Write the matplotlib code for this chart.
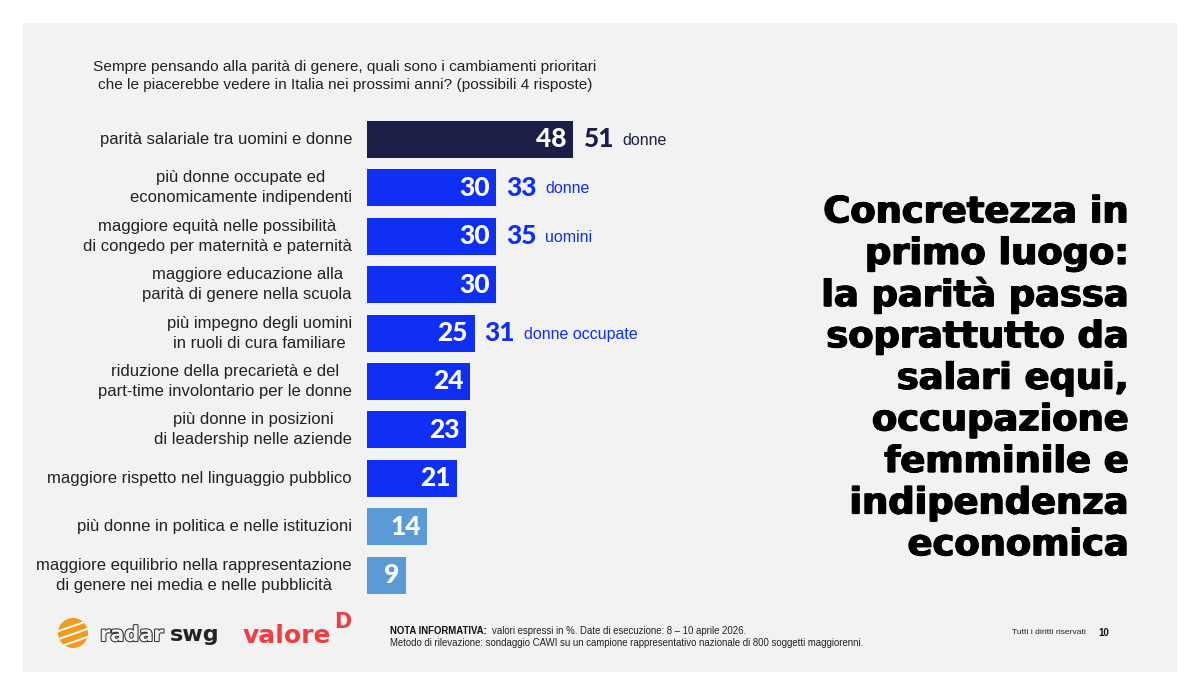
import matplotlib
matplotlib.use("Agg")
import matplotlib.pyplot as plt
from matplotlib.patches import Rectangle, Circle
from matplotlib.transforms import IdentityTransform
import matplotlib.patheffects as pe

# ---------------- data ----------------
categories = [
    "parità salariale tra uomini e donne",
    "più donne occupate ed\neconomicamente indipendenti",
    "maggiore equità nelle possibilità\ndi congedo per maternità e paternità",
    "maggiore educazione alla\nparità di genere nella scuola",
    "più impegno degli uomini\nin ruoli di cura familiare",
    "riduzione della precarietà e del\npart-time involontario per le donne",
    "più donne in posizioni\ndi leadership nelle aziende",
    "maggiore rispetto nel linguaggio pubblico",
    "più donne in politica e nelle istituzioni",
    "maggiore equilibrio nella rappresentazione\ndi genere nei media e nelle pubblicità",
]
values = [48, 30, 30, 30, 25, 24, 23, 21, 14, 9]
sub_values = [51, 33, 35, None, 31, None, None, None, None, None]
sub_labels = ["donne", "donne", "uomini", None, "donne occupate", None, None, None, None, None]
question = ("Sempre pensando alla parità di genere, quali sono i cambiamenti prioritari\n"
            "che le piacerebbe vedere in Italia nei prossimi anni? (possibili 4 risposte)")
headline = ["Concretezza in", "primo luogo:", "la parità passa", "soprattutto da",
            "salari equi,", "occupazione", "femminile e", "indipendenza", "economica"]

NAVY = "#1b1f47"
BLUE = "#0f2ff5"
LIGHT = "#5b9bd5"
bar_colors = [NAVY] + [BLUE] * 7 + [LIGHT] * 2
sub_colors = [NAVY] + [BLUE] * 9
PANEL = "#f2f2f2"

W, H = 1200, 695
fig = plt.figure(figsize=(12, 6.95), dpi=100)
fig.patch.set_facecolor("white")

def fx(px):
    return px / W

def fy(py):
    return 1 - py / H

def faux_bold(color, steps=(0.4, 0.8, 1.2)):
    effects = [pe.SimplePatchShadow(offset=(s, 0), shadow_rgbFace=color, alpha=1.0)
               for s in steps]
    effects.append(pe.SimplePatchShadow(offset=(0.6, -0.3), shadow_rgbFace=color, alpha=1.0))
    effects.append(pe.Normal())
    return effects

# panel
fig.add_artist(Rectangle((fx(23), fy(672)), fx(1177) - fx(23), fy(23) - fy(672),
                         transform=fig.transFigure, facecolor=PANEL, edgecolor="none", zorder=0))

# ---------------- bars ----------------
top_px, bot_px = 115.0, 599.5
ax = fig.add_axes([fx(367), fy(bot_px), 258 / W, (bot_px - top_px) / H])
ax.set_facecolor("none")
n = len(values)
ypos = list(range(n))
ax.barh(ypos, values, height=0.763, color=bar_colors, edgecolor="none")
ax.set_xlim(0, 60)
ax.set_ylim(n - 0.5, -0.5)
ax.axis("off")

NUMFONT = dict(family=["Lato", "DejaVu Sans"], fontweight=900)

for i, v in enumerate(values):
    ax.text(v - 1.5, i, str(v), ha="right", va="center", color="white",
            fontsize=19, **NUMFONT)
    if sub_values[i] is not None:
        ax.annotate(str(sub_values[i]), xy=(v, i), xytext=(10, 0), textcoords="offset pixels",
                    ha="left", va="center", color=sub_colors[i], fontsize=19, **NUMFONT)
        ax.annotate(sub_labels[i], xy=(v, i), xytext=(49, -1), textcoords="offset pixels",
                    ha="left", va="center", color=sub_colors[i], fontsize=11.5,
                    family="Liberation Sans")
    ax.annotate(categories[i], xy=(0, i), xytext=(-15, 0), textcoords="offset pixels",
                ha="right", va="center", multialignment="center", color="#222222",
                fontsize=12, family="Liberation Sans", linespacing=1.42)

# question
fig.text(fx(345), fy(76), question, ha="center", va="center", multialignment="center",
         fontsize=11.1, family="Liberation Sans", color="#222222", linespacing=1.45)

# headline
y0, dy = 212, 41.6
for k, line in enumerate(headline):
    fig.text(fx(1128), fy(y0 + k * dy), line, ha="right", va="center",
             fontsize=26.5, fontweight="bold", family="DejaVu Sans", color="black",
             path_effects=faux_bold("black"))

# ---------------- footer ----------------
ident = IdentityTransform()
cx, cy, r = 73, H - 633, 15
ball = Circle((cx, cy), r, transform=ident, facecolor="#f39a1e", edgecolor="none")
fig.add_artist(ball)
for off in (-8, 0, 8):
    ln = plt.Line2D([cx - 20, cx + 20], [cy + off - 8, cy + off + 6], transform=ident,
                    color="white", lw=1.4)
    ln.set_clip_path(ball)
    fig.add_artist(ln)

fig.text(fx(100), fy(641), "radar", ha="left", va="baseline", fontsize=15,
         family="DejaVu Sans", fontweight="bold", color=PANEL,
         path_effects=[pe.withStroke(linewidth=1.5, foreground="#333333")])
fig.text(fx(170), fy(641), "swg", ha="left", va="baseline", fontsize=16,
         family="DejaVu Sans", fontweight="bold", color="#222222")
fig.text(fx(243), fy(643), "valore", ha="left", va="baseline", fontsize=18,
         family="DejaVu Sans", fontweight="bold", color="#ef3e42")
fig.text(fx(334), fy(622), "D", ha="left", va="center", fontsize=15,
         family="DejaVu Sans", fontweight="bold", color="#ef3e42")

fig.text(fx(390), fy(631), "NOTA INFORMATIVA:", ha="left", va="center", fontsize=6.9,
         family="Liberation Sans", fontweight="bold", color="#111111")
fig.text(fx(492), fy(631), "valori espressi in %. Date di esecuzione: 8 – 10 aprile 2026.",
         ha="left", va="center", fontsize=6.9, family="Liberation Sans", color="#222222")
fig.text(fx(390), fy(643),
         "Metodo di rilevazione: sondaggio CAWI su un campione rappresentativo nazionale di 800 soggetti maggiorenni.",
         ha="left", va="center", fontsize=6.9, family="Liberation Sans", color="#222222")
fig.text(fx(1012), fy(633), "Tutti i diritti riservati", ha="left", va="center", fontsize=6.1,
         family="Liberation Sans", color="#222222")
fig.text(fx(1098), fy(633), "10", ha="left", va="center", fontsize=7,
         family="Liberation Sans", fontweight="bold", color="#111111")

fig.savefig("out.png", dpi=100, facecolor="white")
